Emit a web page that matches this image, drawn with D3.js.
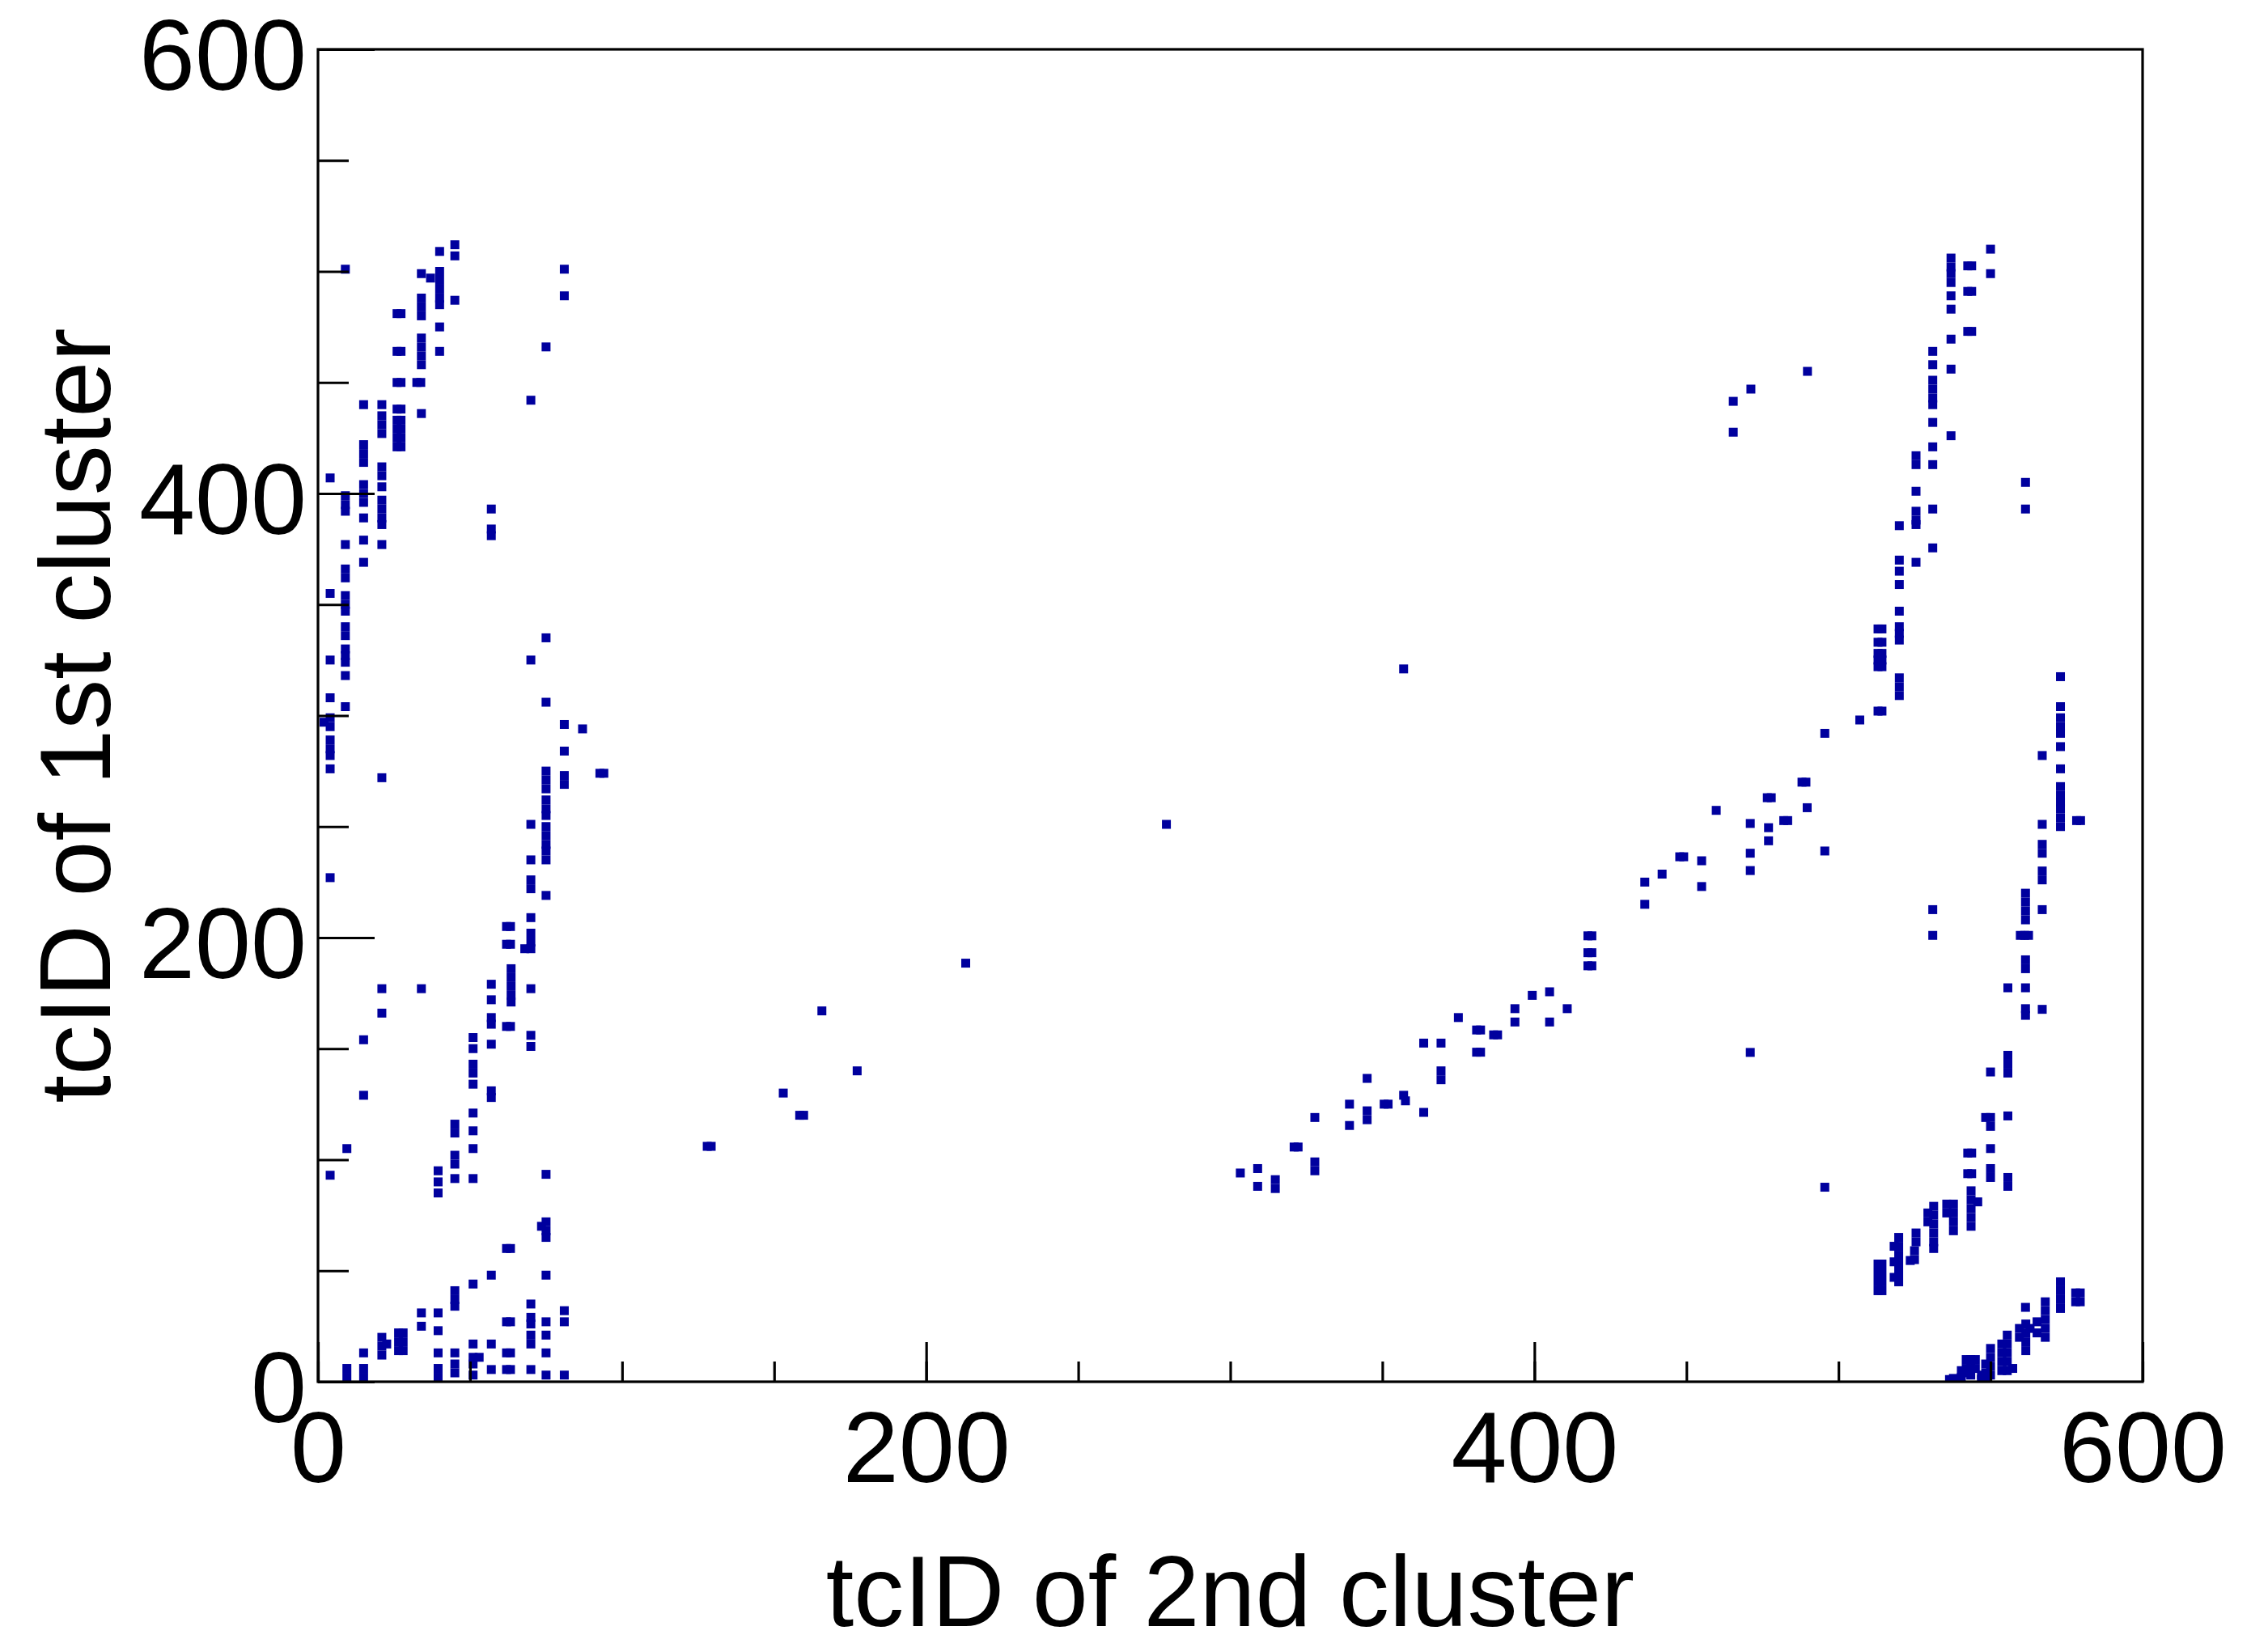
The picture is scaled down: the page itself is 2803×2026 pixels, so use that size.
<!DOCTYPE html>
<html>
<head>
<meta charset="utf-8">
<script src="https://cdn.jsdelivr.net/npm/d3@7"></script>
<style>
    body { margin: 0; background: #ffffff; }
    svg text { font-family: "Liberation Sans", Arial, Helvetica, sans-serif; fill: #000; }
</style>
</head>
<body>
<div id="chart"></div>
<script>

// axis setup
const xDomain = [0, 600];
const yDomain = [0, 600];
const majorTicks = [0, 200, 400, 600];
const minorTicks = [0, 50, 100, 150, 200, 250, 300, 350, 400, 450, 500, 550, 600];
const xTitle = "tcID of 2nd cluster";
const yTitle = "tcID of 1st cluster";

// [tcID of 2nd cluster, tcID of 1st cluster]
const leftUpper = [
    [40,509],[45,507],[45,512],[9,501],[34,499],[37,497],[40,500],[40,496],[40,492],[40,488],[40,485],[45,487],
    [81,501],[81,489],[26,481],[27.3,481],[34,488],[34,484],[34,480],[40,475],[26,464],[27.3,464],[34,470],
    [34,466],[34,462],[34,458],[40,464],[75,466],[26,450],[27.3,450],[32.5,450],[33.8,450],[70,442],[15,440],
    [21,440],[26,438],[27.3,438],[34,436],[21,435],[21,431],[21,427],[26,433],[26,429],[26,425],[26,421],
    [27.3,433],[27.3,429],[27.3,425],[27.3,421],[15,422],[15,418],[15,414],[4,407],[21,412],[21,408],[21,403],
    [15,404],[15,400],[15,396],[9,399],[9,395],[9,392],[21,397],[21,393],[21,389],[21,386],[15,389],[57,393],
    [57,384],[57,381],[9,377],[15,379],[21,377],[15,369],
    [9,366],[9,362],[4,355],[9,354],[9,350],[9,347],[9,340],[9,336],[4,325],[9,330],[9,327],[9,324],[9,318],
    [4,308],[9,304],[4,299],[4,295],[2,297],[4,289],[4,285],[4,282],[4,276],[21,272],[75,335],[70,325],
    [75,306],[81,296],[87,294],[81,284],[75,275],[75,271],[75,267],[81,273],[81,269],[92.7,274],[94,274],
    [75,262],[75,258],[75,255],[70,251],[75,250],[75,246],[75,242],[75,239],[70,235],[75,235],[4,227],
    [70,226],[70,222],[75,219]
];

const leftLower = [
    [70,209],[62,205],[63.3,205],[62,197],[63.3,197],[70,202],[70,198],[70,195],[68,195],[63.5,186],[63.5,182],
    [63.5,178],[63.5,174],[63.5,171],[57,179],[57,172],[70,177],[21,177],[34,177],[21,166],[57,164],[57,161],
    [62,160],[63.3,160],[15,154],[51,155],[51,150],[57,152],[70,156],[70,151],[51,143],[51,139],[51,134],
    [15,129],[57,131],[57,128],[51,121],[45,116],[45,112],[51,113],[51,105],[9.5,105],[45,102],[45,98],[4,93],
    [39.5,95],[39.5,90],[39.5,85],[45,91.5],[51,91.5],[75,93.4],[75,72],[75,68],[75,65],[73.5,70],[62,60],
    [63.3,60],[57,48],[75,48],[51,44],[45,41],[45,37],[45,34],[70,35],[34,31],[39.5,31],[81,32],[81,27],
    [62,27],[63.3,27],[70,29],[70,26],[75,27],[34,25],[39.5,23],[70,21],[70,17],[75,21],[21,20],[21,16],
    [21,12],[22.6,17],[26.5,22],[26.5,18],[26.5,14],[28,22],[28,18],[28,14],[15,13],[51,17],[57,17],[62,13],
    [63.3,13],[75,13],[39.5,13],[45,13],[51,11],[51,8],[53,11],[9.5,6],[9.5,2],[15,6],[15,2],[39.5,6],
    [39.5,2],[45,8],[45,4],[51,3],[57,5.5],[62,5.5],[63.3,5.5],[70,5.5],[75,3],[81,3]
];

const middleArc = [
    [128,106],[129.3,106],[153,130],[158.4,120],[159.7,120],[165.7,167],[177.3,140],[213,188.5],[279,251],
    [357,321],[303.3,94],[309,96],[309,88],[314.8,91],[314.8,87],[321,105.7],[322.3,105.7],[327.8,99],
    [327.8,95],[327.8,119],[339.2,125],[339.2,115.4],[345,122],[345,118],[345,136.6],[350.6,125],[351.9,125],
    [357,129],[357.6,126.5],[363.6,121.3],[363.6,152.5],[369.3,152.5],[369.3,140],[369.3,136],[375,164],
    [381,158.4],[382.3,158.4],[381,148.4],[382.3,148.4],[386.6,156.2],[387.9,156.2],[393.6,168],[393.6,162],
    [399.3,174],[405,175.6],[405,162],[410.8,168],[417.6,200.8],[418.9,200.8],[417.6,193.2],[418.9,193.2],
    [417.6,187.3],[418.9,187.3],[436.3,225],[436.3,215],[442,228.6],[447.8,236.4],[449.1,236.4],[455,234.6],
    [455,223],[459.8,257.3],[471,251.4],[471,238],[471,230.2],[477,249.5],[477,243.6],[476.6,263],[477.9,263],
    [471,148.3],[471.2,447],[465.4,441.5],[465.4,427.6],[489.8,455]
];

const rightUpper = [
    [550,510],[537,506],[537,502],[537,499],[542.5,502.5],[543.8,502.5],[550,499],[537,495],[537,489],
    [542.5,491],[543.8,491],[537,483],[542.5,473],[543.8,473],[537,469.5],[531,464],[531,458],[537,456],
    [531,451],[531,447],[531,443],[531,440],[531,432],[537,426],[531,421],[525.5,417],[525.5,413],[531,413],
    [561.5,405],[525.5,401],[561.5,393],[531,393],[525.5,392],[525.5,388],[525.5,386],[520,385.5],[531,375.5],
    [520,370],[525.5,369],
    [520,365],[520,359],[520,347],[513,339],[514.3,339],[520,340],[520,337],[520,334],[513,333],[514.3,333],
    [513,328],[513,325],[513,322],[514.3,328],[514.3,325],[514.3,322],[520,317],[520,313],[520,309],[513,302],
    [514.3,302],[507,298],[495.5,292],[488,270],[489.3,270],[489.7,258.5],[482,252.7],[483.3,252.7],[495.5,239],
    [573,317.5],[573,304],[573,299],[573,295],[573,292],[573,286],[567,282],[573,276],[573,268],[573,264],
    [573,261],[573,258],[573,254],[573,250],[578.3,252.7],[579.6,252.7],[567,251],[567,242],[567,238],
    [567,230],[567,226],[561.5,220],[561.5,216]
];

const rightMid = [
    [531,212.6],[531,201],[561.5,212],[561.5,208],[567,212.6],[559.8,201],[561.2,201],[562.5,201],[561.5,190],
    [561.5,186],[555.7,177.4],[561.5,177.4],[561.5,168],[561.5,165],[567,167.7],[555.7,147],[555.7,143],
    [555.7,139],[550,139.5],[555.7,119.7],[550,119],[550,115],[548.4,119],[542.5,103],[543.8,103],[550,105],
    [542.5,93.7],[543.8,93.7],[550,96],[550,92],[555.7,92],[555.7,88],[495.5,87.6],
    [543.6,86],[543.6,82],[543.6,78],[543.6,74],[543.6,70],[537.8,80],[537.8,76],[537.8,72],[537.8,68],
    [535.6,80],[535.6,76],[545.8,81],[531.3,79],[531.3,75],[531.3,71],[531.3,67],[531.3,63],[531.3,60],
    [529.4,76],[529.4,72],[525.5,67],[525.5,63],[525,59],[525,55],[523.6,54.6],[519.8,65],[519.8,61],
    [519.8,57],[519.8,53],[519.8,49],[519.8,45],[518.3,61],[518.3,54],[518.3,47],[513,53],[513,49],[513,45],
    [513,41],[514.3,53],[514.3,49],[514.3,45],[514.3,41]
];

const rightBottom = [
    [561.5,33.5],[573,45],[573,41],[573,37],[573,33],[578,40],[579.5,40],[578,36],[579.5,36],[568,36],[568,32],
    [568,28],[568,24],[568,20],[565.3,27],[565.3,22],[561.6,26],[561.6,22],[561.6,18],[561.6,14],[559.5,24],
    [559.5,20],[563,24],[555.5,21],[555.5,17],[555.5,13],[555.5,9],[555.5,5],[553.7,17],[553.7,13],[553.7,9],
    [553.7,5],[557.3,6],[550,15],[550,11],[550,7],[550,3],[548.4,8],[548.4,4],[543.5,10],[543.5,6],[543.5,3],
    [541.8,4],[542,10],[545,10],[542,6],[545,6],[540.4,5],[540.4,2],[537.8,1.5],[536.5,1],[547,3],[547,1],[549,1]
];


class ClusterPlot {

    constructor (groups) {
        this.groups = groups;
        this.width = 2803;
        this.height = 2026;
        this.margin = {top: 61, right: 155, bottom: 318, left: 393};
        this.markerSize = 11;
        this.fontSize = 124;

        this.xScale = d3.scaleLinear()
            .domain(xDomain)
            .range([this.margin.left, this.width - this.margin.right]);
        this.yScale = d3.scaleLinear()
            .domain(yDomain)
            .range([this.height - this.margin.bottom, this.margin.top]);

        this.svg = d3.select("#chart")
            .append("svg")
            .attr("width", this.width)
            .attr("height", this.height);

        this.drawPoints();
        this.drawAxes();
        this.drawTitles();
    }

    drawPoints () {
        let that = this;
        let x0 = this.xScale(xDomain[0]), x1 = this.xScale(xDomain[1]);
        let y0 = this.yScale(yDomain[1]), y1 = this.yScale(yDomain[0]);

        this.svg.append("clipPath")
            .attr("id", "frame-clip")
            .append("rect")
            .attr("x", x0).attr("y", y0)
            .attr("width", x1 - x0).attr("height", y1 - y0);

        let allPoints = [];
        this.groups.forEach(g => allPoints = allPoints.concat(g));

        this.svg.append("g")
            .attr("clip-path", "url(#frame-clip)")
            .selectAll("rect")
            .data(allPoints)
            .enter()
            .append("rect")
            .attr("x", d => that.xScale(d[0]) - that.markerSize / 2)
            .attr("y", d => that.yScale(d[1]) - that.markerSize / 2)
            .attr("width", this.markerSize)
            .attr("height", this.markerSize)
            .attr("fill", "#00009e");
    }

    drawAxes () {
        let bottom = this.height - this.margin.bottom;
        let left = this.margin.left;
        let x0 = this.xScale(xDomain[0]), x1 = this.xScale(xDomain[1]);
        let y0 = this.yScale(yDomain[1]), y1 = this.yScale(yDomain[0]);

        // frame
        this.svg.append("rect")
            .attr("x", x0).attr("y", y0)
            .attr("width", x1 - x0).attr("height", y1 - y0)
            .attr("fill", "none")
            .attr("stroke", "#000")
            .attr("stroke-width", 3.2);

        // minor ticks, no labels
        this.svg.append("g")
            .attr("class", "x-minor")
            .attr("transform", "translate(0," + bottom + ")")
            .call(d3.axisBottom(this.xScale).tickValues(minorTicks).tickSize(-25).tickFormat(""));
        this.svg.append("g")
            .attr("class", "y-minor")
            .attr("transform", "translate(" + left + ",0)")
            .call(d3.axisLeft(this.yScale).tickValues(minorTicks).tickSize(-38).tickFormat(""));

        // major ticks with labels
        let xaxis = this.svg.append("g")
            .attr("class", "x-major")
            .attr("transform", "translate(0," + bottom + ")")
            .call(d3.axisBottom(this.xScale).tickValues(majorTicks).tickSize(-49).tickPadding(36).tickFormat(d3.format("d")));
        let yaxis = this.svg.append("g")
            .attr("class", "y-major")
            .attr("transform", "translate(" + left + ",0)")
            .call(d3.axisLeft(this.yScale).tickValues(majorTicks).tickSize(-70).tickPadding(14).tickFormat(d3.format("d")));

        this.svg.selectAll(".x-minor, .y-minor, .x-major, .y-major")
            .selectAll(".domain").remove();
        this.svg.selectAll(".tick line")
            .attr("stroke", "#000")
            .attr("stroke-width", 3.2);

        xaxis.selectAll("text")
            .attr("font-size", this.fontSize)
            .attr("font-family", "Liberation Sans, Arial, sans-serif");
        yaxis.selectAll("text")
            .attr("font-size", this.fontSize)
            .attr("dy", "0.4em")
            .attr("font-family", "Liberation Sans, Arial, sans-serif");
    }

    drawTitles () {
        let xMid = (this.xScale(xDomain[0]) + this.xScale(xDomain[1])) / 2;
        let yMid = (this.yScale(yDomain[0]) + this.yScale(yDomain[1])) / 2;

        this.svg.append("text")
            .attr("x", xMid)
            .attr("y", 2010)
            .attr("text-anchor", "middle")
            .attr("font-size", this.fontSize)
            .text(xTitle);

        this.svg.append("text")
            .attr("transform", "translate(136," + yMid + ") rotate(-90)")
            .attr("text-anchor", "middle")
            .attr("font-size", this.fontSize)
            .text(yTitle);
    }

}

new ClusterPlot([leftUpper, leftLower, middleArc, rightUpper, rightMid, rightBottom]);

</script>
</body>
</html>
